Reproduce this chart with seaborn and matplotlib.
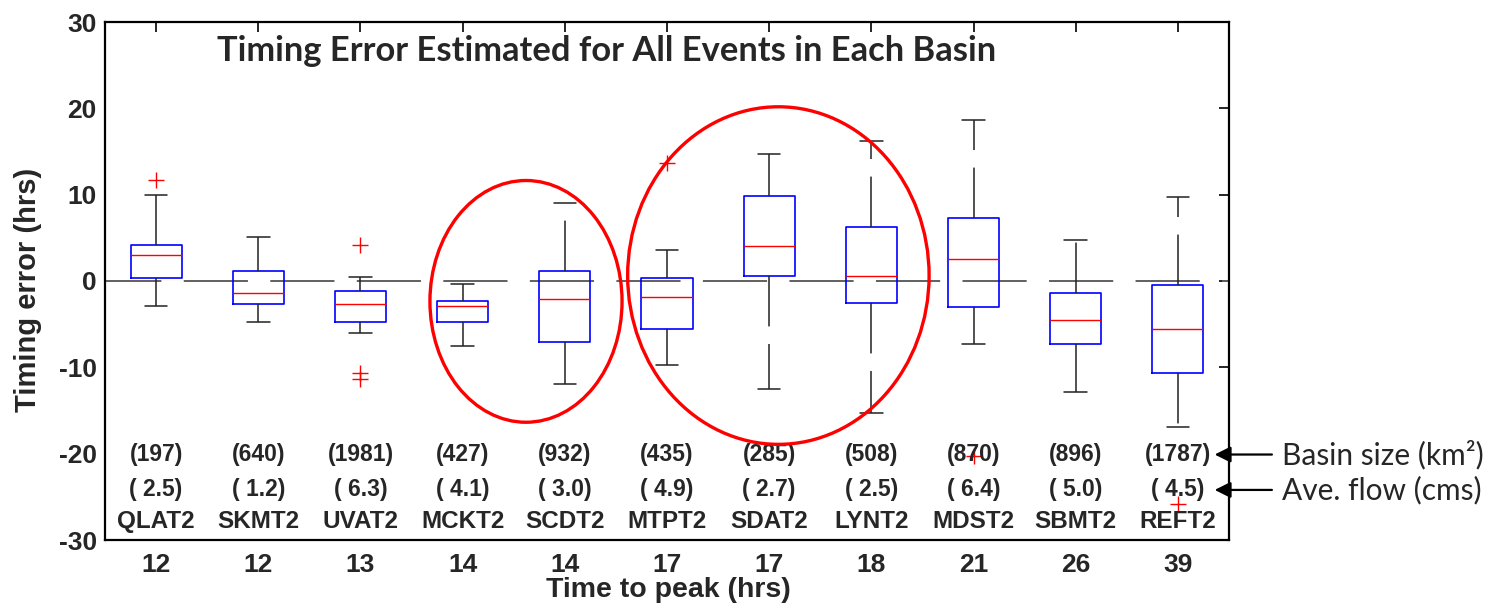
import numpy as np
import pandas as pd
import matplotlib
matplotlib.use("Agg")
import matplotlib.pyplot as plt
from matplotlib.patches import Ellipse
import seaborn as sns

# ---------------- data ----------------
basins = ["QLAT2", "SKMT2", "UVAT2", "MCKT2", "SCDT2", "MTPT2",
          "SDAT2", "LYNT2", "MDST2", "SBMT2", "REFT2"]
basin_size = [197, 640, 1981, 427, 932, 435, 285, 508, 870, 896, 1787]
ave_flow = [2.5, 1.2, 6.3, 4.1, 3.0, 4.9, 2.7, 2.5, 6.4, 5.0, 4.5]
time_to_peak = [12, 12, 13, 14, 14, 17, 17, 18, 21, 26, 39]

whisker_low = [-2.9, -4.7, -6.0, -7.5, -11.9, -9.7, -12.5, -15.3, -7.3, -12.8, -16.9]
q1 = [0.35, -2.7, -4.7, -4.7, -7.1, -5.6, 0.6, -2.5, -3.0, -7.3, -10.6]
median = [3.0, -1.4, -2.7, -2.9, -2.1, -1.85, 4.0, 0.6, 2.5, -4.5, -5.6]
q3 = [4.2, 1.2, -1.2, -2.3, 1.2, 0.3, 9.9, 6.2, 7.3, -1.4, -0.5]
whisker_high = [10.0, 5.1, 0.5, -0.3, 9.0, 3.6, 14.7, 16.2, 18.6, 4.7, 9.7]

outlier_basin = ["QLAT2", "UVAT2", "UVAT2", "UVAT2", "MTPT2", "MDST2", "REFT2"]
outlier_value = [11.7, 4.2, -10.7, -11.3, 13.7, -20.3, -25.8]

title = "Timing Error Estimated for All Events in Each Basin"

# ---------------- build tables ----------------
rows = []
for i, b in enumerate(basins):
    for v in (whisker_low[i], q1[i], median[i], q3[i], whisker_high[i]):
        rows.append({"basin": b, "value": v})
df = pd.DataFrame(rows)
out_df = pd.DataFrame({"basin": outlier_basin, "value": outlier_value})

# ---------------- style ----------------
sns.set_style("white")
plt.rcParams["font.family"] = ["Liberation Sans", "DejaVu Sans"]

W, H = 1486, 605
fig = plt.figure(figsize=(W / 100, H / 100), dpi=100)
ax = fig.add_axes([105 / W, 1 - 540 / H, (1229 - 105) / W, (540 - 22) / H])

ax.axhline(0, color="#606060", lw=1.4, linestyle=(4, (33, 11.5)), zorder=1)

sns.boxplot(data=df, x="basin", y="value", order=basins, ax=ax,
            whis=(0, 100), width=0.5, fill=False, showfliers=False,
            boxprops={"color": "blue", "linewidth": 1.2},
            medianprops={"color": "red", "linewidth": 1.0},
            whiskerprops={"color": "#222222", "linewidth": 1.1,
                          "linestyle": (0, (33, 11.5))},
            capprops={"color": "#222222", "linewidth": 1.1},
            capwidths=0.22)

sns.stripplot(data=out_df, x="basin", y="value", order=basins, ax=ax,
              jitter=False, marker="+", color="red", size=11, linewidth=1.0)

ax.set_xlim(-0.5, 10.5)
ax.set_ylim(-30, 30)
ax.set_yticks([-30, -20, -10, 0, 10, 20, 30])
ax.set_yticklabels([str(t) for t in [-30, -20, -10, 0, 10, 20, 30]],
                   fontsize=19, fontweight="bold")
ax.set_xticks(range(len(basins)))
ax.set_xticklabels([str(t) for t in time_to_peak], fontsize=19, fontweight="bold")
ax.tick_params(direction="in", top=True, right=True, length=7, width=1.2,
               color="black", pad=6)
ax.tick_params(axis="x", pad=9.5)
ax.set_xlabel("")
ax.set_ylabel("")
for s in ax.spines.values():
    s.set_visible(True)
    s.set_color("black")
    s.set_linewidth(1.6)

# ellipses
ax.add_patch(Ellipse((3.62, -2.36), 1.88, 28.0, fill=False, edgecolor="red",
                     lw=2.4, zorder=5))
ax.add_patch(Ellipse((6.09, 0.63), 2.95, 39.1, fill=False, edgecolor="red",
                     lw=2.4, zorder=5))

# basin annotations
for i, b in enumerate(basins):
    ax.text(i, -20.1, f"({basin_size[i]})", ha="center", va="center",
            fontsize=16.5, fontweight="bold")
    ax.text(i, -24.2, f"( {ave_flow[i]:.1f})", ha="center", va="center",
            fontsize=16.5, fontweight="bold")
    ax.text(i, -27.9, b, ha="center", va="center", fontsize=17.5,
            fontweight="bold")

ax.text(0.596, 26.6, title, ha="left", va="center", fontsize=24.8,
        fontweight="bold", family=["Lato", "DejaVu Sans"])

# right-side legend arrows
for yv, lab in [(-20.1, "Basin size (km²)"), (-24.2, "Ave. flow (cms)")]:
    ax.annotate("", xy=(10.36, yv), xytext=(10.92, yv),
                arrowprops=dict(arrowstyle="-|>", color="black", lw=1.6,
                                mutation_scale=24, shrinkA=0, shrinkB=0),
                annotation_clip=False)
    ax.text(11.02, yv, lab, ha="left", va="center", fontsize=21.5,
            family=["Lato", "DejaVu Sans"], clip_on=False)

fig.text(28 / W, 1 - 290 / H, "Timing error (hrs)", rotation=90,
         ha="center", va="center", fontsize=21, fontweight="bold")
fig.text(668 / W, 1 - 590 / H, "Time to peak (hrs)", ha="center",
         va="center", fontsize=20.5, fontweight="bold")

fig.savefig("out.png", dpi=100, facecolor="white")
